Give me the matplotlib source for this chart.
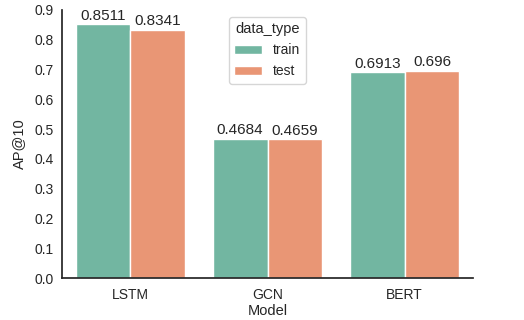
import matplotlib
matplotlib.use("Agg")
import matplotlib.pyplot as plt
import seaborn as sns
import pandas as pd

models = ["LSTM", "GCN", "BERT"]
train_vals = [0.8511, 0.4684, 0.6913]
test_vals = [0.8341, 0.4659, 0.696]
data_types = ["train", "test"]

df = pd.DataFrame({
    "Model": models * 2,
    "AP@10": train_vals + test_vals,
    "data_type": ["train"] * 3 + ["test"] * 3,
})

sns.set_theme(style="white")
plt.rcParams['font.family'] = ['Liberation Sans', 'DejaVu Sans']

fig = plt.figure(figsize=(5.24, 3.2), dpi=100)
ax = fig.add_axes([0.118, 0.131, 0.785, 0.838])
sns.barplot(data=df, x="Model", y="AP@10", hue="data_type", hue_order=data_types,
            palette="Set2", ax=ax)
for c in ax.containers:
    ax.bar_label(c, fontsize=11, padding=1, color="#262626")
ax.set_ylim(0, 0.9)
ax.set_xlim(-0.5, 2.5)
ax.tick_params(axis="both", labelsize=10, colors="#262626", length=0)
ax.tick_params(axis="x", pad=7.5)
ax.tick_params(axis="y", pad=6)
ax.set_xlabel("Model", fontsize=10.5, color="#262626", labelpad=1)
ax.set_ylabel("AP@10", fontsize=10.5, color="#262626", labelpad=6)
sns.despine(ax=ax)
leg = ax.legend(title="data_type", loc="upper center", bbox_to_anchor=(0.5, 1.0),
                fontsize=10, title_fontsize=10.5)
fig.savefig("out.png", dpi=100)
